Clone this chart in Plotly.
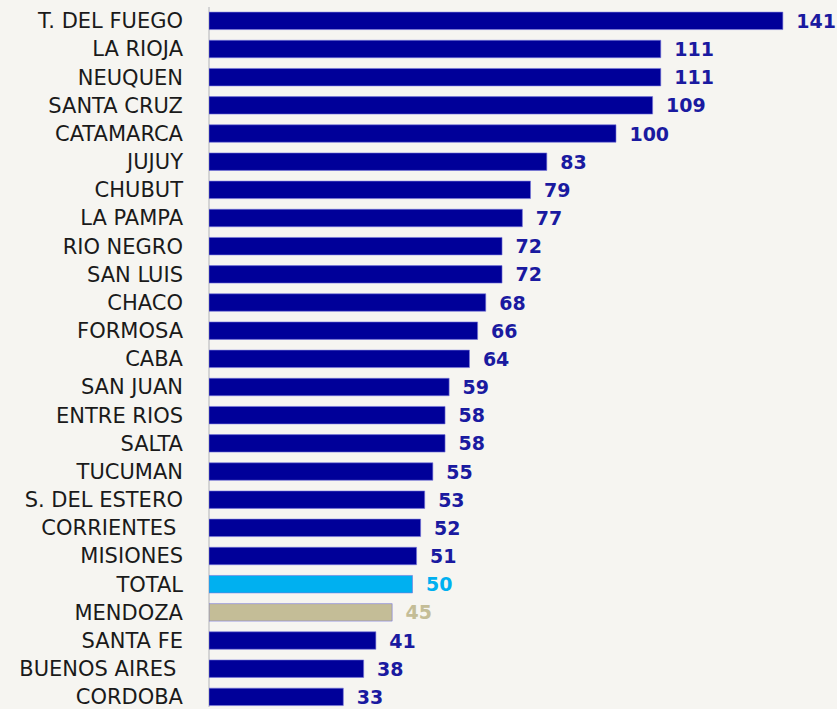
import plotly.graph_objects as go

provinces = ["T. DEL FUEGO", "LA RIOJA", "NEUQUEN", "SANTA CRUZ", "CATAMARCA", "JUJUY",
             "CHUBUT", "LA PAMPA", "RIO NEGRO", "SAN LUIS", "CHACO", "FORMOSA", "CABA",
             "SAN JUAN", "ENTRE RIOS", "SALTA", "TUCUMAN", "S. DEL ESTERO",
             "CORRIENTES\u00a0", "MISIONES", "TOTAL", "MENDOZA", "SANTA FE",
             "BUENOS AIRES\u00a0", "CORDOBA"]
values = [141, 111, 111, 109, 100, 83, 79, 77, 72, 72, 68, 66, 64, 59, 58, 58, 55, 53,
          52, 51, 50, 45, 41, 38, 33]

DARK = "#000099"
LIGHT = "#00B0F0"
BEIGE = "#C4BD97"
colors = [LIGHT if p == "TOTAL" else BEIGE if p == "MENDOZA" else DARK for p in provinces]
text_colors = [LIGHT if p == "TOTAL" else BEIGE if p == "MENDOZA" else "#1A1AA0" for p in provinces]

fig = go.Figure(go.Bar(
    x=values, y=provinces, orientation="h",
    marker=dict(color=colors, line=dict(color="rgba(120,120,220,0.6)", width=1)),
    width=0.62,
    text=[" \u2009" + str(v) for v in values],
    textposition="outside",
    constraintext="none",
    textfont=dict(family="DejaVu Sans", size=19, color=text_colors, weight="bold"),
    cliponaxis=False,
))

fig.add_shape(type="line", xref="paper", yref="paper", x0=0, x1=0, y0=0, y1=0.99,
              line=dict(color="#D4D4D4", width=2), layer="below")

fig.update_layout(
    width=837, height=709,
    margin=dict(l=209, r=0, t=0, b=0),
    paper_bgcolor="#F6F5F1", plot_bgcolor="#F6F5F1",
    showlegend=False,
    font=dict(family="DejaVu Sans", size=21, color="#1A1A1A"),
    xaxis=dict(range=[0, 154.3], visible=False, showgrid=False, zeroline=False),
    yaxis=dict(categoryorder="array", categoryarray=provinces,
               range=[24.36, -0.74], showgrid=False, zeroline=False,
               showline=False, ticks="", ticklabelstandoff=25,
               tickfont=dict(family="DejaVu Sans", size=21, color="#1A1A1A")),
)

fig.write_html("out.html", config={"displayModeBar": False},
               post_script="document.body.style.margin='0';")
